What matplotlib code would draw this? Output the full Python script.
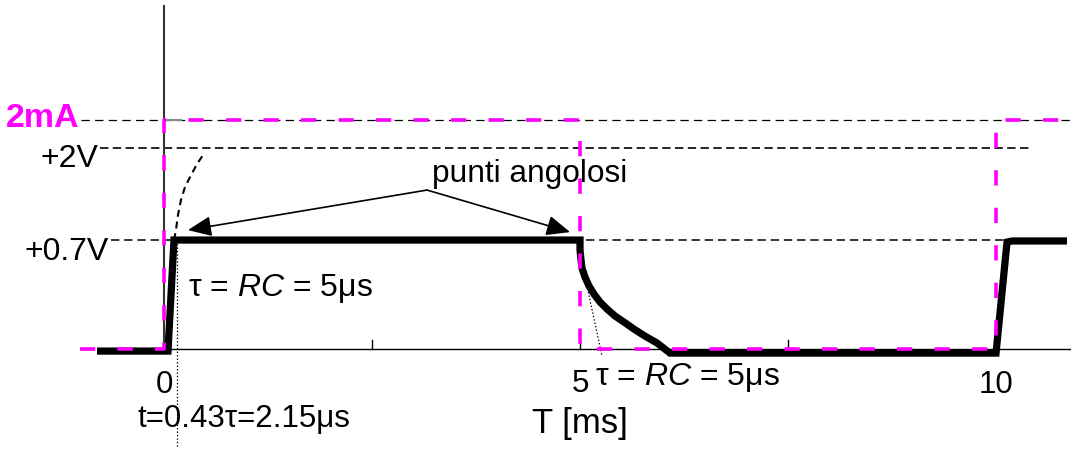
import matplotlib
matplotlib.use("Agg")
import matplotlib.pyplot as plt

plt.rcParams['font.family'] = ['Liberation Sans', 'DejaVu Sans']
plt.rcParams['mathtext.fontset'] = 'custom'
plt.rcParams['mathtext.rm'] = 'Liberation Sans'
plt.rcParams['mathtext.it'] = 'Liberation Sans:italic'
plt.rcParams['lines.scale_dashes'] = False

# ---- data -------------------------------------------------------------
# reference levels (schematic heights, not to scale)
level_labels = ['+0.7V', '+2V', '2mA']
level_heights = [0.70, 1.29, 1.47]

# x-axis tick labels (ms) and minor tick positions
tick_labels = ['0', '5', '10']
tick_values = [0, 5, 10]
minor_ticks = [2.5, 5, 7.5]

# driving current (square wave, 2 mA)
t_current = [-1.01, 0, 0, 5, 5, 10, 10, 10.83]
i_current = [0, 0, 1.47, 1.47, 0, 0, 1.47, 1.47]

# diode voltage
t_voltage = [-0.805, 0.048, 0.120, 5.000, 5.000, 5.012, 5.024, 5.060, 5.108,
             5.168, 5.240, 5.325, 5.421, 5.529, 5.649, 5.781, 5.925, 6.082,
             10.000, 10.132, 10.192, 10.853]
v_voltage = [-0.013, -0.013, 0.700, 0.700, 0.636, 0.572, 0.520, 0.462, 0.405,
             0.353, 0.302, 0.257, 0.212, 0.173, 0.128, 0.083, 0.039, -0.026,
             -0.026, 0.687, 0.694, 0.694]

# RC charge towards +2V (dashed)
t_charge = [0.120, 0.144, 0.168, 0.204, 0.252, 0.325, 0.397, 0.469]
v_charge = [0.700, 0.764, 0.860, 0.957, 1.040, 1.117, 1.188, 1.246]

# tangent at the start of the discharge
t_tangent = [5.012, 5.264]
v_tangent = [0.584, -0.045]

# ---- figure -----------------------------------------------------------
fig = plt.figure(figsize=(10.71, 4.54), dpi=100)
ax = fig.add_axes([0, 0, 1, 1])
ax.set_xlim(-1.971, 10.901)
ax.set_ylim(-0.674, 2.2415)
ax.axis('off')

magenta = '#FF00FF'

# axes
ax.plot([0, 0], [0, 2.203], color='#333333', lw=1.5, zorder=2)
ax.plot([0, 10.901], [0, 0], color='black', lw=1.0, zorder=2)
for m in minor_ticks:
    ax.plot([m, m], [0, 0.058], color='black', lw=1.0, zorder=2)

# horizontal guide lines at each level
guide_spans = [(-0.637, 10.10), (-0.769, 10.433), (-0.998, 10.901)]
guide_styles = [dict(lw=1.1, ls=(0, (6, 3.5))),
                dict(lw=1.2, ls=(0, (6, 3.2))),
                dict(lw=0.9, ls=(0, (6, 3.8)))]
for h, (x0, x1), st in zip(level_heights, guide_spans, guide_styles):
    ax.plot([x0, x1], [h, h], color='black', zorder=1, **st)

# short solid stub at the top of the current step
ax.plot([0, 0.2], [level_heights[2], level_heights[2]], color='#888888',
        lw=1.5, zorder=2)

# current square wave
ax.plot(t_current, i_current, color=magenta, lw=2.6,
        ls=(0, (11, 16)), zorder=4)

# voltage waveform
ax.plot(t_voltage, v_voltage, color='black', lw=5.2,
        solid_joinstyle='miter', solid_capstyle='butt', zorder=3)

# charge curve, tangent and time marker
ax.plot(t_charge, v_charge, color='black', lw=1.5,
        ls=(0, (5, 3.5)), zorder=2)
ax.plot(t_tangent, v_tangent, color='black', lw=0.9, ls=(0, (1, 1.5)),
        zorder=2)
ax.plot([0.156, 0.156], [0.70, -0.636], color='black', lw=0.9,
        ls=(0, (1, 1.5)), zorder=2)

# level labels
ax.text(-1.022, 1.426, level_labels[2], color=magenta, fontsize=24.5,
        fontweight='bold', ha='right', va='baseline')
ax.text(-0.793, 1.169, level_labels[1], fontsize=23, ha='right',
        va='baseline')
ax.text(-0.661, 0.572, level_labels[0], fontsize=23, ha='right',
        va='baseline')

# tick labels
tick_y = [-0.283, -0.276, -0.283]
for lab, tv, ty in zip(tick_labels, tick_values, tick_y):
    ax.text(tv, ty, lab, fontsize=22.5, ha='center', va='baseline')

# annotations
tau_text = 'τ = $\\mathit{RC}$ = 5μs'
ax.text(0.288, 0.340, tau_text, fontsize=23, ha='left', va='baseline')
ax.text(5.180, -0.231, tau_text, fontsize=23, ha='left', va='baseline')
ax.text(-0.313, -0.501, 't=0.43τ=2.15μs', fontsize=22.5, ha='left',
        va='baseline')
ax.text(5.0, -0.540, 'T [ms]', fontsize=25, ha='center', va='baseline')
ax.text(3.221, 1.073, 'punti angolosi', fontsize=22.8, ha='left',
        va='baseline')

arrow = dict(arrowstyle='-|>,head_length=0.72,head_width=0.31',
             color='black', lw=1.2, shrinkA=0, shrinkB=0, mutation_scale=20)
ax.annotate('', xy=(0.288, 0.764), xytext=(3.161, 1.021), arrowprops=arrow)
ax.annotate('', xy=(4.880, 0.751), xytext=(3.161, 1.021), arrowprops=arrow)

fig.savefig('out.png', dpi=100)
